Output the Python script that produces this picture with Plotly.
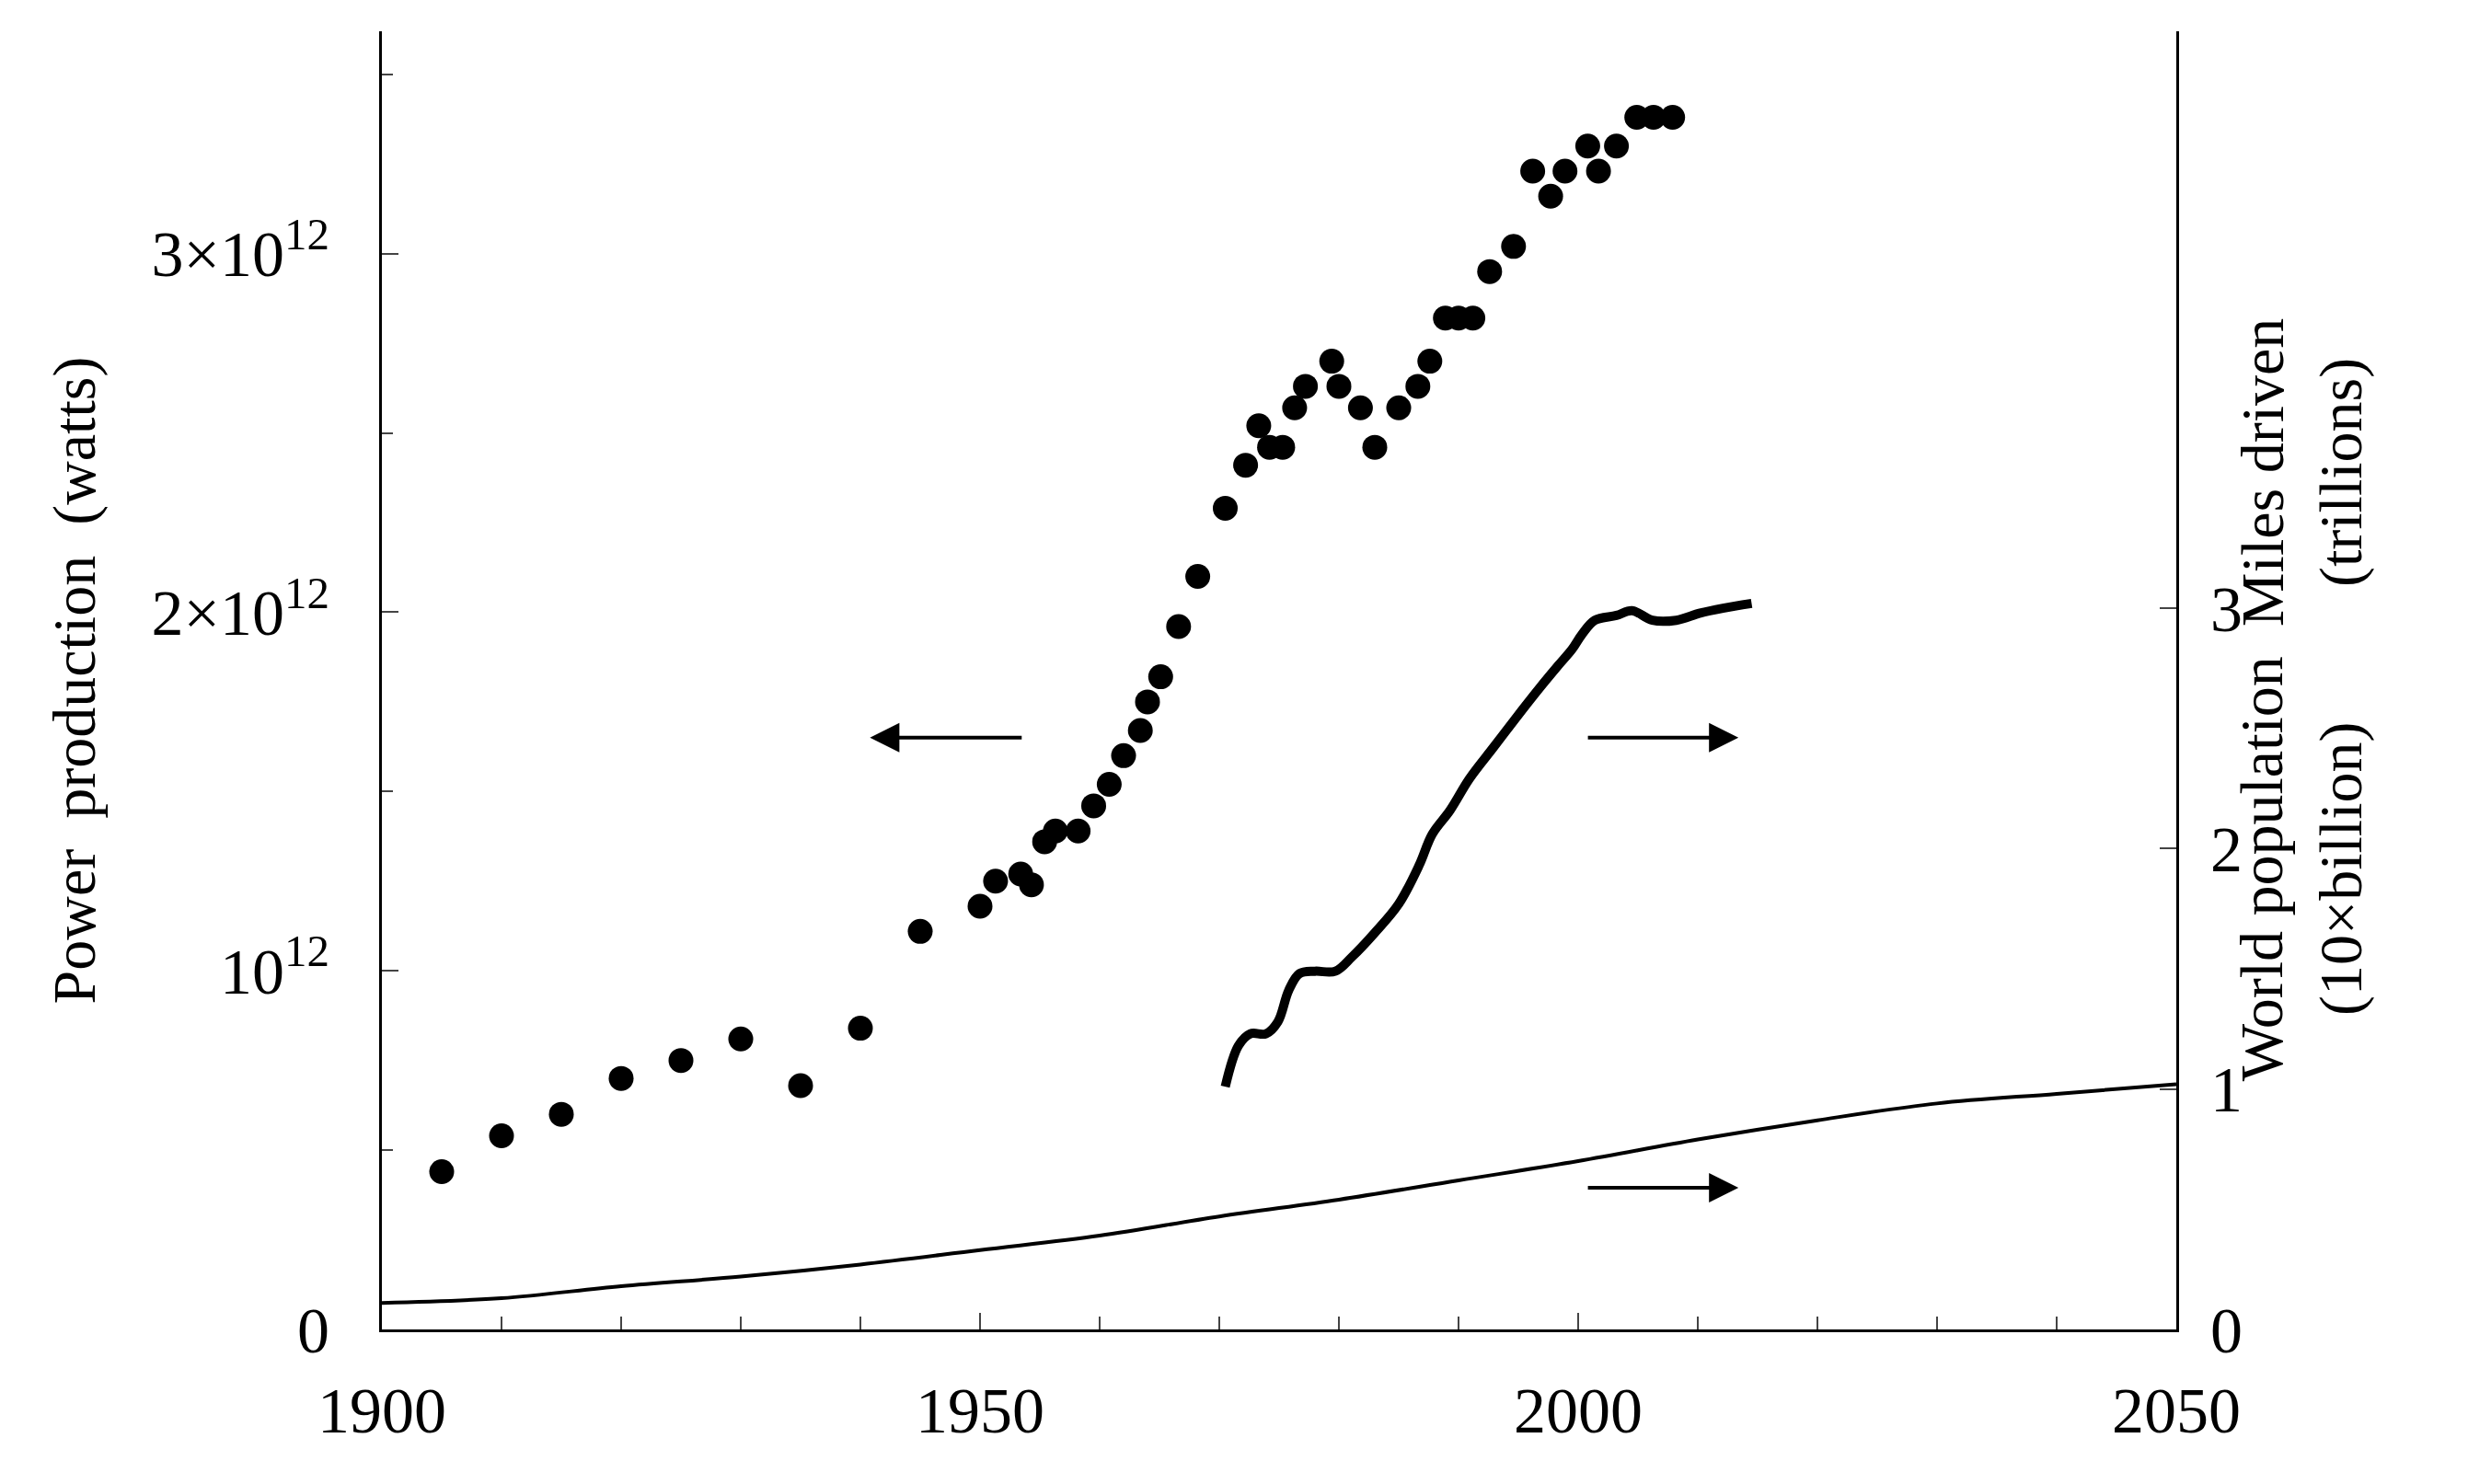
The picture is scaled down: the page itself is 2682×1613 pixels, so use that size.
import plotly.graph_objects as go

power_years = [1905,1910,1915,1920,1925,1930,1935,1940,1945,1950,1951.3,1953.4,1954.3,1955.4,1956.3,1958.2,1959.5,1960.8,1962.0,1963.4,1964.0,1965.1,1966.6,1968.2,1970.5,1972.2,1973.3,1974.2,1975.3,1976.3,1977.2,1979.4,1980.0,1981.8,1983.0,1985.0,1986.6,1987.6,1988.9,1990.0,1991.2,1992.6,1994.6,1996.2,1997.7,1998.9,2000.8,2001.7,2003.2,2004.9,2006.3,2007.9]
power_vals = [0.44,0.54,0.60,0.70,0.75,0.81,0.68,0.84,1.11,1.18,1.25,1.27,1.24,1.36,1.39,1.39,1.46,1.52,1.60,1.67,1.75,1.82,1.96,2.10,2.29,2.41,2.52,2.46,2.46,2.57,2.63,2.70,2.63,2.57,2.46,2.57,2.63,2.70,2.82,2.82,2.82,2.95,3.02,3.23,3.16,3.23,3.30,3.23,3.30,3.38,3.38,3.38]

miles_years = [1970.5,1971.6,1972.6,1973.9,1974.9,1975.8,1976.7,1978.0,1979.7,1981.1,1983.0,1985.0,1986.7,1987.8,1989.3,1990.9,1992.9,1994.9,1996.8,1998.3,1999.5,2000.3,2001.4,2003.2,2004.5,2006.2,2008.2,2010.2,2012.1,2014.5]
miles_vals = [1.01,1.18,1.23,1.23,1.28,1.41,1.48,1.49,1.49,1.55,1.65,1.77,1.93,2.06,2.16,2.29,2.42,2.55,2.67,2.76,2.83,2.89,2.95,2.97,2.99,2.95,2.95,2.98,3.00,3.02]

pop_years = [1900,1910,1920,1930,1940,1950,1960,1970,1980,1990,2000,2010,2020,2030,2040,2050]
pop_vals = [0.11,0.13,0.18,0.22,0.27,0.33,0.39,0.47,0.54,0.62,0.70,0.79,0.87,0.94,0.98,1.02]

left_ticks = [0, 1, 2, 3]
left_labels = ["0", "10<sup>12</sup>", "2×10<sup>12</sup>", "3×10<sup>12</sup>"]
right_ticks = [0, 1, 2, 3]
x_ticks = [1900, 1950, 2000, 2050]

FONT = "Liberation Serif"
fig = go.Figure()
fig.add_trace(go.Scatter(x=power_years, y=power_vals, mode="markers",
                         marker=dict(color="black", size=27), yaxis="y"))
fig.add_trace(go.Scatter(x=miles_years, y=miles_vals, mode="lines",
                         line=dict(color="black", width=10, shape="spline"), yaxis="y2"))
fig.add_trace(go.Scatter(x=pop_years, y=pop_vals, mode="lines",
                         line=dict(color="black", width=4, shape="spline"), yaxis="y2"))

def arrow(x0, x1, y, yref):
    fig.add_annotation(x=x1, y=y, ax=x0, ay=y, xref="x", yref=yref, axref="x", ayref=yref,
                       showarrow=True, arrowhead=2, arrowsize=1.6, arrowwidth=4, arrowcolor="black", text="")

arrow(1953.6, 1940.8, 1.65, "y")
arrow(2000.7, 2013.4, 1.65, "y")
arrow(2000.7, 2013.4, 0.395, "y")

fig.add_annotation(text="Miles driven<br>(trillions)", xref="paper", yref="paper", x=1.112, y=0.66,
                   textangle=-90, showarrow=False, font=dict(family=FONT, size=66, color="black"))
fig.add_annotation(text="World population<br>(10×billion)", xref="paper", yref="paper", x=1.112, y=0.19,
                   textangle=-90, showarrow=False, font=dict(family=FONT, size=66, color="black"))

fig.update_layout(
    width=2682, height=1613, showlegend=False,
    plot_bgcolor="white", paper_bgcolor="white",
    margin=dict(l=407, r=325, t=26, b=176),
    font=dict(family=FONT, size=70, color="black"),
    xaxis=dict(range=[1900, 2050], tickvals=x_ticks, ticks="inside", ticklen=18, tickwidth=2,
               ticklabelstandoff=25,
               showline=True, linewidth=3, linecolor="black", showgrid=False, zeroline=False,
               minor=dict(dtick=10, tick0=1900, ticks="inside", ticklen=14, tickwidth=2, showgrid=False)),
    yaxis=dict(range=[0, 3.62], tickvals=left_ticks, ticktext=left_labels, ticks="inside", ticklen=18,
               tickwidth=2, showline=True, linewidth=3, linecolor="black", showgrid=False, zeroline=False,
               ticklabelstandoff=40,
               title=dict(text="Power  production  (watts)", font=dict(size=66), standoff=40),
               minor=dict(dtick=0.5, tick0=0, ticks="inside", ticklen=12, tickwidth=2, showgrid=False)),
    yaxis2=dict(range=[0, 5.4], overlaying="y", side="right", tickvals=right_ticks, ticks="inside",
                ticklen=18, tickwidth=2, showline=True, linewidth=3, linecolor="black",
                ticklabelstandoff=20, showgrid=False, zeroline=False),
)
fig.write_html("out.html")
